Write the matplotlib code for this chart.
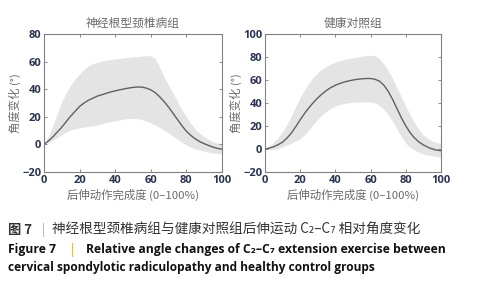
import matplotlib
matplotlib.use("Agg")
import matplotlib.pyplot as plt

plt.rcParams["font.family"] = ["Noto Sans CJK SC", "DejaVu Sans"]

# progress of extension movement (%), read every 2.5 %
progress = [0, 2.5, 5, 7.5, 10, 12.5, 15, 17.5, 20, 22.5, 25, 27.5, 30, 32.5,
            35, 37.5, 40, 42.5, 45, 47.5, 50, 52.5, 55, 57.5, 60, 62.5, 65,
            67.5, 70, 72.5, 75, 77.5, 80, 82.5, 85, 87.5, 90, 92.5, 95, 97.5, 100]

# cervical spondylotic radiculopathy group
csr_mean = [0, 2.5, 5.5, 9, 12.5, 16.5, 20.5, 24, 27.5, 30, 32, 33.5, 35, 36,
            37, 38, 38.8, 39.5, 40.2, 40.8, 41.3, 41.6, 41.5, 40.8, 39.5, 37.5, 34.5,
            31, 27, 22.5, 18, 13.5, 9.5, 6.5, 4, 2, 0.5, -0.8, -2, -2.9, -3.5]
csr_upper = [0, 6, 14, 22.5, 31, 37.5, 43, 47.5, 51, 54.5, 57, 58.5, 59.5, 60.3,
             61, 61.5, 62, 62.3, 62.7, 63, 63.3, 63.6, 64, 64.3, 64.3, 62, 56,
             49, 43, 37, 31, 25, 20, 15, 11, 8, 5.5, 3.5, 2, 1, 0.5]
csr_lower = [0, 1.5, 3, 5, 7, 9, 10.5, 11.5, 12, 12.5, 13, 13.5, 14, 15,
             15.8, 16.5, 17.2, 17.8, 18.3, 18.7, 18.9, 18.8, 18, 16.8, 15.5, 14, 12.3,
             10.3, 8.2, 6, 3.8, 1.5, -0.5, -2, -3.2, -4.2, -5, -5.7, -6.2, -6.6, -7]

# healthy control group
ctl_mean = [0, 0.8, 2, 3.8, 6, 9.5, 14, 19.5, 25.5, 31, 36, 40.5, 44.5, 48,
            51, 53.5, 55.5, 57, 58.2, 59.2, 60, 60.6, 61, 61.3, 61.3, 60.6, 59,
            55.5, 50, 43, 35, 27, 20, 14, 9.5, 6, 3.5, 1.5, 0, -1, -1.5]
ctl_upper = [0, 2.5, 6, 10, 15, 21.5, 29, 37, 45, 51.5, 57.5, 62.5, 66.5, 69.5,
             72, 74, 75.5, 76.8, 77.8, 78.6, 79.3, 80, 80.7, 81.2, 81.5, 81, 78.5,
             74, 68, 61, 53, 45, 37, 29.5, 22.5, 16.5, 12, 9, 7, 5.5, 5]
ctl_lower = [0, -0.5, -0.5, 0.5, 2, 3.5, 5, 7, 9, 12.5, 17, 21.5, 26, 30,
             33, 35.5, 37.5, 38.8, 39.7, 40.2, 40.6, 40.9, 41, 41, 40.8, 40, 38,
             34.5, 30, 24, 17, 10.5, 5, 1.5, -1, -3, -4.3, -5.3, -6, -6.6, -7]

panels = [
    ("神经根型颈椎病组", csr_mean, csr_upper, csr_lower, (-20, 80), [-20, 0, 20, 40, 60, 80]),
    ("健康对照组", ctl_mean, ctl_upper, ctl_lower, (-20, 100), [-20, 0, 20, 40, 60, 80, 100]),
]

tick_color = "#2b3452"
label_color = "#6b6b6b"

fig = plt.figure(figsize=(4.81, 3.0), dpi=100)
rects = [[0.0915, 0.4267, 0.370, 0.46], [0.551, 0.4267, 0.366, 0.46]]

for rect, (title, mean, upper, lower, ylim, yticks) in zip(rects, panels):
    ax = fig.add_axes(rect)
    ax.fill_between(progress, lower, upper, color="#e4e4e4", linewidth=0)
    ax.plot(progress, mean, color="#606060", linewidth=1.0)
    ax.set_xlim(0, 100)
    ax.set_ylim(*ylim)
    ax.set_xticks([0, 20, 40, 60, 80, 100])
    ax.set_yticks(yticks)
    ax.tick_params(direction="in", length=2, width=0.6, color="#777777",
                   labelsize=8, labelcolor=tick_color, pad=2,
                   top=True, right=True)
    for lab in ax.get_xticklabels() + ax.get_yticklabels():
        lab.set_fontweight("bold")
        lab.set_family(["Open Sans", "DejaVu Sans"])
    for sp in ax.spines.values():
        sp.set_color("#808080")
        sp.set_linewidth(0.8)
    ax.set_title(title, fontsize=8.5, color=label_color, pad=5)
    ax.set_xlabel("后伸动作完成度 (0–100%)", fontsize=8.2, color=label_color, labelpad=2)
    ax.set_ylabel("角度变化 (°)", fontsize=8.2, color=label_color, labelpad=1)

# caption
cap_dark = "#333333"
bar_color = "#e0a030"
fig.text(8 / 481, 1 - 230 / 300, "图 7", fontsize=9.5, color=cap_dark,
         fontweight="bold", va="center")
fig.text(42 / 481, 1 - 230 / 300, "|", fontsize=9, color=bar_color, va="center")
fig.text(52 / 481, 1 - 230 / 300, "神经根型颈椎病组与健康对照组后伸运动 C₂–C₇ 相对角度变化",
         fontsize=9.8, color=cap_dark, va="center")
fig.text(8 / 481, 1 - 250 / 300, "Figure 7", fontsize=8.7, color="#111111",
         fontweight="bold", va="center", family=["Open Sans", "DejaVu Sans"])
fig.text(71 / 481, 1 - 250 / 300, "|", fontsize=8.5, color=bar_color, va="center")
fig.text(86 / 481, 1 - 250 / 300,
         "Relative angle changes of C₂–C₇ extension exercise between",
         fontsize=8.7, color="#111111", fontweight="bold", va="center",
         family=["Open Sans", "DejaVu Sans"])
fig.text(8 / 481, 1 - 268 / 300,
         "cervical spondylotic radiculopathy and healthy control groups",
         fontsize=8.6, color="#111111", fontweight="bold", va="center",
         family=["Open Sans", "DejaVu Sans"])

fig.savefig("out.png", dpi=100)
